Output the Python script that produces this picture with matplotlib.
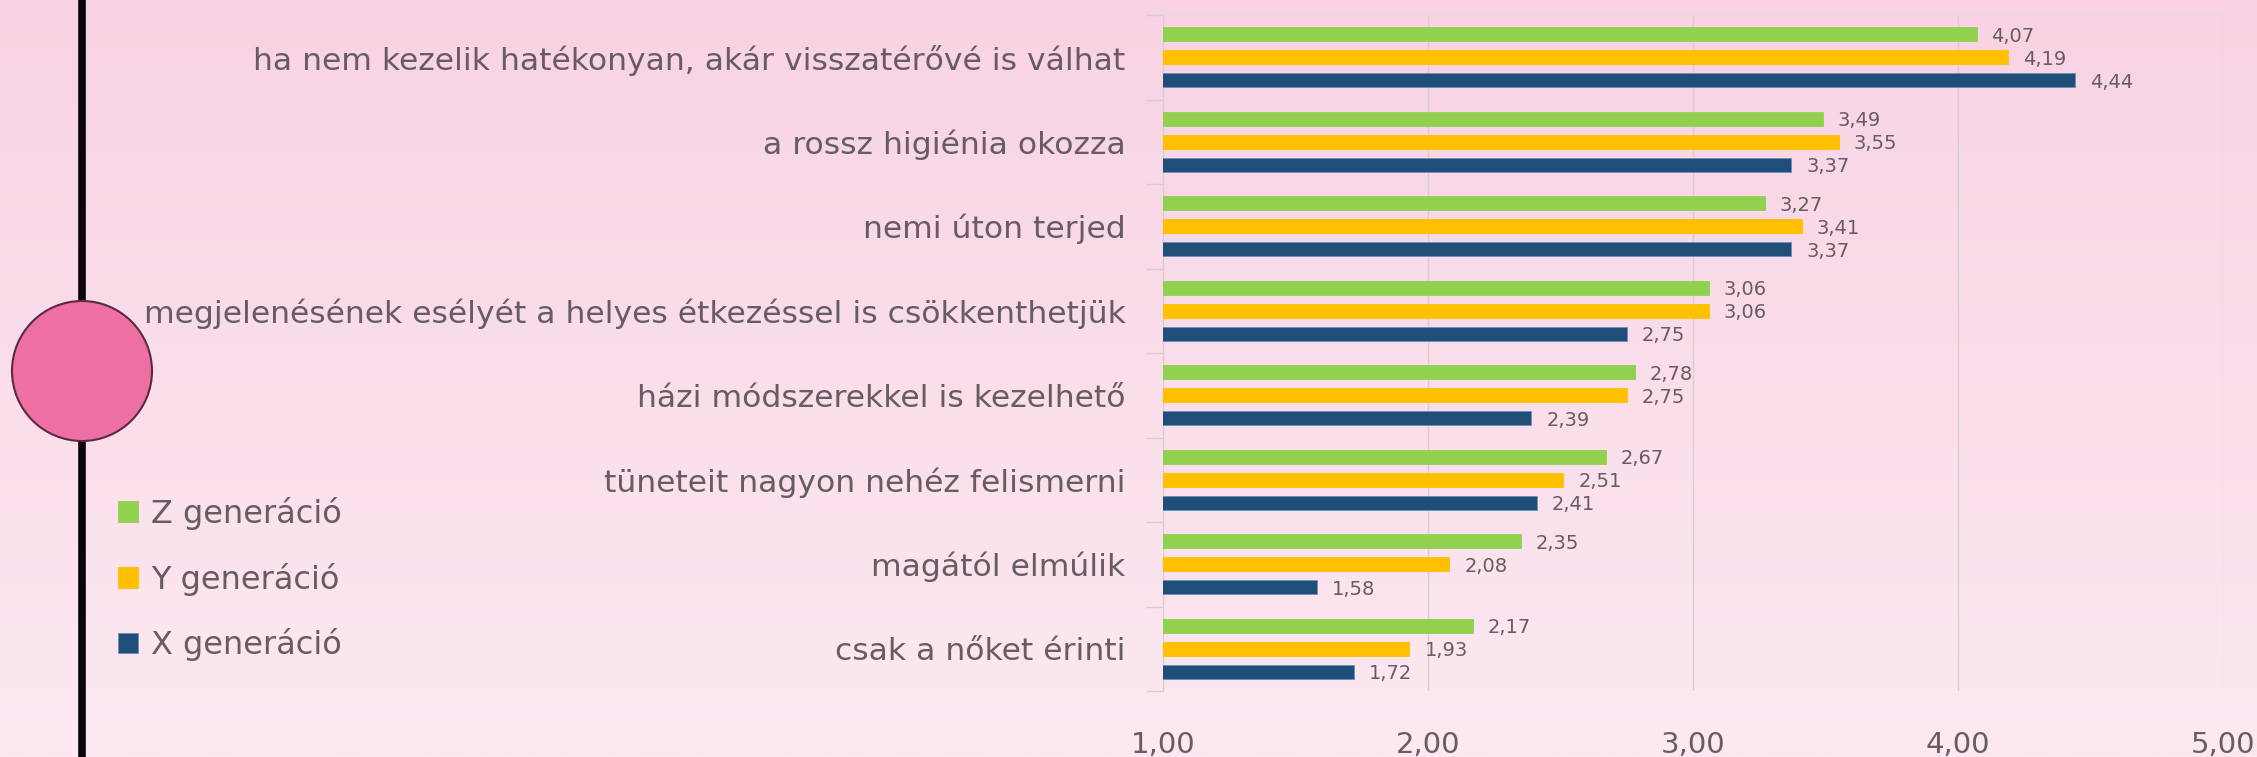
import numpy as np
import matplotlib
matplotlib.use("Agg")
import matplotlib.pyplot as plt
from matplotlib.patches import Circle
from matplotlib.lines import Line2D
from matplotlib.ticker import FuncFormatter

categories = [
    "ha nem kezelik hatékonyan, akár visszatérővé is válhat",
    "a rossz higiénia okozza",
    "nemi úton terjed",
    "megjelenésének esélyét a helyes étkezéssel is csökkenthetjük",
    "házi módszerekkel is kezelhető",
    "tüneteit nagyon nehéz felismerni",
    "magától elmúlik",
    "csak a nőket érinti",
]
series_names = ["Z generáció", "Y generáció", "X generáció"]
z_gen = [4.07, 3.49, 3.27, 3.06, 2.78, 2.67, 2.35, 2.17]
y_gen = [4.19, 3.55, 3.41, 3.06, 2.75, 2.51, 2.08, 1.93]
x_gen = [4.44, 3.37, 3.37, 2.75, 2.39, 2.41, 1.58, 1.72]
x_ticks = [1, 2, 3, 4, 5]

colors = ["#92D050", "#FFC000", "#1F4E79"]
text_col = "#675c63"
grid_col = "#d8cdd2"
plt.rcParams["font.family"] = ["DejaVu Sans"]

W, H = 2257, 757
fig = plt.figure(figsize=(W / 100, H / 100), dpi=100)

# background gradient
bg = fig.add_axes([0, 0, 1, 1], zorder=-10)
top = np.array([248, 211, 227]) / 255
bot = np.array([252, 233, 242]) / 255
t = np.linspace(0, 1, 256)[:, None]
grad = top * (1 - t) + bot * t
bg.imshow(grad[:, None, :].repeat(2, axis=1), aspect="auto", extent=[0, 1, 0, 1])
bg.set_xlim(0, 1)
bg.set_ylim(0, 1)
bg.axis("off")

# left decorative line and circle (figure pixel coords)
deco = fig.add_axes([0, 0, 1, 1], zorder=-5)
deco.set_xlim(0, W)
deco.set_ylim(H, 0)
deco.axis("off")
deco.add_line(Line2D([82, 82], [0, H], color="#0b0510", lw=5.5))
deco.add_patch(Circle((82, 371), 70, facecolor="#EE6FA4", edgecolor="#5b2a42", lw=1.5, zorder=3))

# main chart
left, right = 1163 / W, 2223 / W
ytop, ybot = 1 - 15 / H, 1 - 691 / H
ax = fig.add_axes([left, ybot, right - left, ytop - ybot])
ax.set_facecolor("none")

n = len(categories)
ypos = np.arange(n)
step = 0.27
bh = 0.165
data = [z_gen, y_gen, x_gen]
bars = []
for i, (vals, col, name) in enumerate(zip(data, colors, series_names)):
    yy = ypos + (i - 1) * step
    b = ax.barh(yy, vals, height=bh, color=col, label=name, zorder=3,
                edgecolor=("#6f8fb8" if i == 2 else col), linewidth=0.6)
    bars.append(b)
    for yv, v in zip(yy, vals):
        ax.annotate(f"{v:.2f}".replace(".", ","), xy=(v, yv), xytext=(15, -2),
                    textcoords="offset pixels", va="center", ha="left",
                    fontsize=14, color=text_col, zorder=4)

ax.set_xlim(1, 5)
ax.set_ylim(n - 0.5, -0.5)
ax.set_xticks(x_ticks)
ax.xaxis.set_major_formatter(FuncFormatter(lambda v, p: f"{v:.2f}".replace(".", ",")))
ax.tick_params(axis="x", length=0, pad=29, labelsize=21, labelcolor=text_col)
ax.grid(axis="x", color=grid_col, lw=1, zorder=0)

ax.set_yticks(ypos)
ax.set_yticklabels(categories)
ax.tick_params(axis="y", which="major", length=0, pad=27, labelsize=22.6, labelcolor=text_col)
ax.set_yticks(np.arange(-0.5, n + 0.5, 1), minor=True)
ax.tick_params(axis="y", which="minor", length=12, width=1, color=grid_col, direction="out")

for s in ["right", "bottom"]:
    ax.spines[s].set_visible(False)
ax.spines["left"].set_color(grid_col)
ax.spines["top"].set_color("#e6dadf")

fig.legend(handles=bars, labels=series_names, loc="upper left",
           bbox_to_anchor=(118 / W, 1 - 497 / H), frameon=False, fontsize=23,
           handlelength=0.62, handleheight=0.62, handletextpad=0.42,
           labelspacing=1.02, borderpad=0, borderaxespad=0, labelcolor=text_col)

fig.savefig("out.png", dpi=100)
